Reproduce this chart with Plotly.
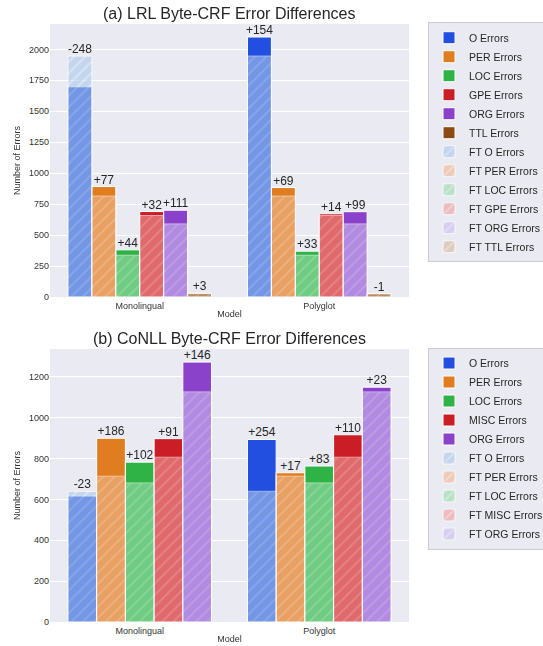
import plotly.graph_objects as go
from plotly.subplots import make_subplots

categories = ["Monolingual", "Polyglot"]

# (a) LRL
lrl_entities = ["O", "PER", "LOC", "GPE", "ORG", "TTL"]
lrl_base_mono = [1698, 892, 381, 690, 701, 30]
lrl_base_poly = [2100, 884, 370, 672, 689, 26]
lrl_ft_mono = [1946, 815, 337, 658, 590, 27]
lrl_ft_poly = [1946, 815, 337, 658, 590, 27]

# (b) CoNLL
conll_entities = ["O", "PER", "LOC", "MISC", "ORG"]
conll_base_mono = [617, 900, 783, 898, 1273]
conll_base_poly = [894, 731, 764, 917, 1150]
conll_ft_mono = [640, 714, 681, 807, 1127]
conll_ft_poly = [640, 714, 681, 807, 1127]

solid_colors = ["#224fdf", "#df7d20", "#30b346", "#cb1d25", "#8a42cb", "#8b4a14"]
ft_colors = ["#abc9ea", "#efb792", "#9bdcaa", "#ef9f9c", "#cbbdf0", "#d6bb9f"]

FONT = "Arial, Liberation Sans, sans-serif"
BG = "#eaeaf2"

fig = make_subplots(rows=2, cols=1, vertical_spacing=0.087)


def add_chart(row, entities, base_mono, base_poly, ft_mono, ft_poly, legend, color_idx):
    for i, ent in enumerate(entities):
        c = color_idx[i]
        fig.add_trace(go.Bar(
            x=categories, y=[base_mono[i], base_poly[i]], name=f"{ent} Errors",
            offsetgroup=ent, legend=legend,
            marker=dict(color=solid_colors[c], line=dict(color="white", width=1)),
        ), row=row, col=1)
    for i, ent in enumerate(entities):
        c = color_idx[i]
        fig.add_trace(go.Bar(
            x=categories, y=[ft_mono[i], ft_poly[i]], name=f"FT {ent} Errors",
            offsetgroup=ent, legend=legend, opacity=0.6,
            marker=dict(color=ft_colors[c], line=dict(color="white", width=1),
                        pattern=dict(shape="/", fgcolor="white", bgcolor=ft_colors[c],
                                     fillmode="overlay", size=8, solidity=0.2)),
        ), row=row, col=1)
    for i, ent in enumerate(entities):
        b = [base_mono[i], base_poly[i]]
        f = [ft_mono[i], ft_poly[i]]
        tops = [max(b[k], f[k]) for k in range(2)]
        texts = [f"{b[k] - f[k]:+d}" for k in range(2)]
        fig.add_trace(go.Scatter(
            x=categories, y=tops, offsetgroup=ent, showlegend=False,
            mode="text", text=texts, textposition="top center", cliponaxis=False,
            textfont=dict(size=12, color="#262626", family=FONT), hoverinfo="skip",
        ), row=row, col=1)


add_chart(1, lrl_entities, lrl_base_mono, lrl_base_poly, lrl_ft_mono, lrl_ft_poly, "legend", [0, 1, 2, 3, 4, 5])
add_chart(2, conll_entities, conll_base_mono, conll_base_poly, conll_ft_mono, conll_ft_poly, "legend2", [0, 1, 2, 3, 4])

fig.update_layout(
    width=543, height=646,
    margin=dict(l=50, r=134, t=24, b=24, autoexpand=False),
    paper_bgcolor="white", plot_bgcolor=BG,
    barmode="group", bargap=0.2, bargroupgap=0,
    scattermode="group", scattergap=0.2,
    font=dict(family=FONT, size=9, color="#333333"),
    legend=dict(x=1.053, y=1.003, xanchor="left", yanchor="top",
                bgcolor=BG, bordercolor="#cccccc", borderwidth=1,
                font=dict(size=10.5, color="#262626")),
    legend2=dict(x=1.053, y=0.459, xanchor="left", yanchor="top",
                 bgcolor=BG, bordercolor="#cccccc", borderwidth=1,
                 font=dict(size=10.5, color="#262626")),
    annotations=[
        dict(text="(a) LRL Byte-CRF Error Differences", xref="x domain", yref="y domain",
             x=0.5, y=1, yanchor="bottom", yshift=0, showarrow=False,
             font=dict(size=16, color="#262626", family=FONT)),
        dict(text="(b) CoNLL Byte-CRF Error Differences", xref="x2 domain", yref="y2 domain",
             x=0.5, y=1, yanchor="bottom", yshift=0, showarrow=False,
             font=dict(size=16, color="#262626", family=FONT)),
    ],
)

fig.update_xaxes(showgrid=False, zeroline=False, showline=False, ticks="",
                 tickfont=dict(size=9, color="#333333"), ticklabelstandoff=2,
                 title=dict(text="Model", font=dict(size=9, color="#333333"), standoff=0),
                 automargin=False)
fig.update_yaxes(showgrid=True, gridcolor="white", gridwidth=1.2, zeroline=False,
                 showline=False, ticks="", tickfont=dict(size=9, color="#333333"),
                 title=dict(text="Number of Errors", font=dict(size=9, color="#333333"), standoff=6),
                 automargin=False)
fig.update_yaxes(range=[0, 2205], dtick=250, row=1, col=1)
fig.update_yaxes(range=[0, 1337], dtick=200, row=2, col=1)

fig.write_html("out.html", config={"displayModeBar": False},
               post_script="document.body.style.margin='0';")
